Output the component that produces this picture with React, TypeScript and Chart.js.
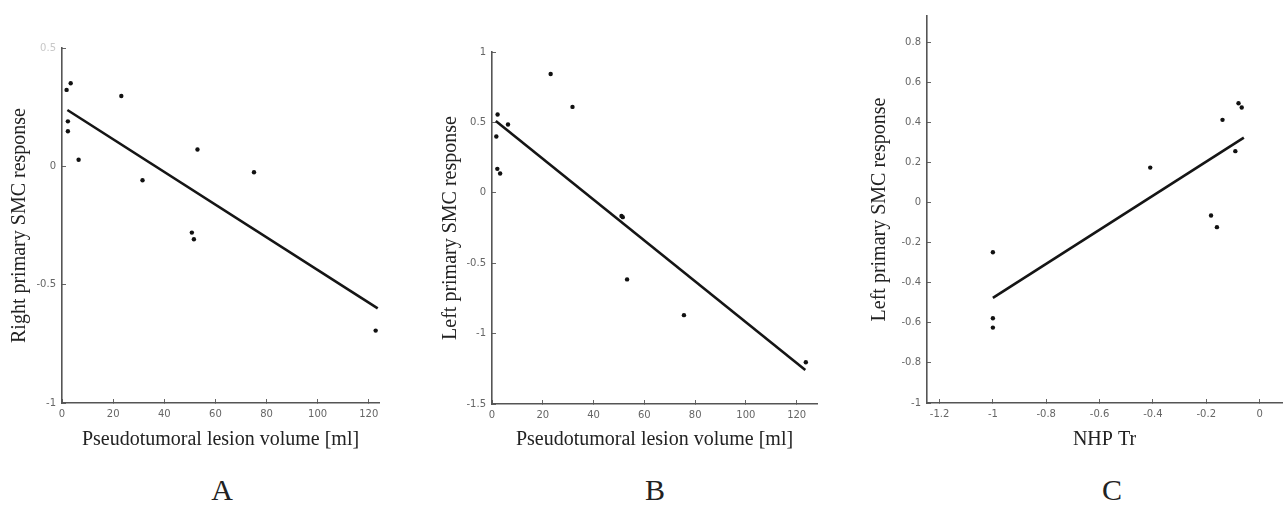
import React, { useEffect, useRef } from 'react';
import { Chart, registerables } from 'chart.js';

Chart.register(...registerables);

// ---------- Panel A: right primary SMC response vs lesion volume ----------
const volumeA = [1.8, 3.4, 2.3, 2.3, 6.5, 23.2, 31.5, 50.8, 51.6, 53.0, 75.1, 122.7];
const rightSMC = [0.323, 0.351, 0.19, 0.148, 0.028, 0.297, -0.059, -0.28, -0.308, 0.071, -0.025, -0.694];
const fitAX = [2.1, 123.5];
const fitAY = [0.238, -0.6];

// ---------- Panel B: left primary SMC response vs lesion volume ----------
const volumeB = [1.7, 2.1, 2.2, 3.2, 6.3, 23.1, 31.7, 51.0, 51.5, 53.2, 75.6, 123.6];
const leftSMCB = [0.4, 0.17, 0.556, 0.137, 0.485, 0.844, 0.61, -0.164, -0.173, -0.615, -0.869, -1.204];
const fitBX = [1.5, 123.4];
const fitBY = [0.51, -1.259];

// ---------- Panel C: left primary SMC response vs NHP Tr ----------
const nhpTr = [-1.0, -1.0, -1.0, -0.41, -0.182, -0.16, -0.139, -0.091, -0.079, -0.067];
const leftSMCC = [-0.248, -0.577, -0.624, 0.174, -0.065, -0.123, 0.412, 0.256, 0.495, 0.474];
const fitCX = [-1.0, -0.059];
const fitCY = [-0.476, 0.323];

// ---------- Tick labels ----------
const volumeTicks = [0, 20, 40, 60, 80, 100, 120];
const ticksAY = [-1, -0.5, 0, 0.5];
const ticksBY = [-1.5, -1, -0.5, 0, 0.5, 1];
const ticksCX = [-1.2, -1, -0.8, -0.6, -0.4, -0.2, 0];
const ticksCY = [-1, -0.8, -0.6, -0.4, -0.2, 0, 0.2, 0.4, 0.6, 0.8];

const panelLetters = ['A', 'B', 'C'];

const SERIF = "'Liberation Serif', 'Times New Roman', serif";
const SANS = "'DejaVu Sans', sans-serif";

type Spec = {
  left: number;
  width: number;
  height: number;
  padTop: number;
  padRight: number;
  yAxisW: number;
  xAxisH: number;
  xMin: number;
  xMax: number;
  yMin: number;
  yMax: number;
  xTicks: number[];
  yTicks: number[];
  xTitle: string;
  yTitle: string;
  yTitlePad: number;
  xTitlePad: number;
  xs: number[];
  ys: number[];
  fx: number[];
  fy: number[];
  fadedY?: number;
};

function zip(a: number[], b: number[]) {
  return a.map((v, i) => ({ x: v, y: b[i] }));
}

function Panel({ spec }: { spec: Spec }) {
  const ref = useRef<HTMLCanvasElement | null>(null);
  useEffect(() => {
    if (!ref.current) return;
    const s = spec;
    const chart = new Chart(ref.current, {
      type: 'scatter',
      data: {
        datasets: [
          {
            type: 'scatter',
            data: zip(s.xs, s.ys),
            pointRadius: 2.2,
            pointBackgroundColor: '#111',
            pointBorderColor: '#111',
            pointBorderWidth: 0,
          },
          {
            type: 'line',
            data: zip(s.fx, s.fy),
            borderColor: '#151515',
            borderWidth: 2.6,
            pointRadius: 0,
            fill: false,
            tension: 0,
          } as any,
        ],
      },
      options: {
        responsive: false,
        animation: false,
        events: [],
        layout: { padding: { top: s.padTop, right: s.padRight, left: 0, bottom: 0 } },
        plugins: { legend: { display: false }, tooltip: { enabled: false }, title: { display: false } },
        scales: {
          x: {
            type: 'linear',
            min: s.xMin,
            max: s.xMax,
            afterBuildTicks: (sc: any) => {
              sc.ticks = s.xTicks.map((v) => ({ value: v }));
            },
            afterFit: (sc: any) => {
              sc.height = s.xAxisH;
            },
            border: { display: true, color: '#555', width: 1.6 },
            grid: { display: true, drawOnChartArea: false, drawTicks: true, tickLength: -4, color: '#666', lineWidth: 1 },
            ticks: {
              padding: 9,
              color: '#666',
              font: { family: SANS, size: 10 },
              maxRotation: 0,
              autoSkip: false,
              callback: (v: any) => String(v),
            },
            title: {
              display: true,
              text: s.xTitle,
              color: '#222',
              font: { family: SERIF, size: 20 },
              padding: { top: 0, bottom: s.xTitlePad },
            },
          },
          y: {
            type: 'linear',
            min: s.yMin,
            max: s.yMax,
            afterBuildTicks: (sc: any) => {
              sc.ticks = s.yTicks.map((v) => ({ value: v }));
            },
            afterFit: (sc: any) => {
              sc.width = s.yAxisW;
            },
            border: { display: true, color: '#555', width: 1.6 },
            grid: { display: true, drawOnChartArea: false, drawTicks: true, tickLength: -4, color: '#666', lineWidth: 1 },
            ticks: {
              padding: 10,
              color: (c: any) => (s.fadedY !== undefined && c.tick && c.tick.value === s.fadedY ? '#c8c8c8' : '#666'),
              font: { family: SANS, size: 10 },
              autoSkip: false,
              callback: (v: any) => String(v),
            },
            title: {
              display: true,
              text: s.yTitle,
              color: '#222',
              font: { family: SERIF, size: 20 },
              padding: { top: s.yTitlePad, bottom: 0 },
            },
          },
        },
      } as any,
    });
    return () => chart.destroy();
  }, [spec]);
  return (
    <canvas
      ref={ref}
      width={spec.width}
      height={spec.height}
      style={{ position: 'absolute', left: spec.left, top: 0, width: spec.width, height: spec.height }}
    />
  );
}

const specs: Spec[] = [
  {
    left: 0,
    width: 400,
    height: 460,
    padTop: 48,
    padRight: 21,
    yAxisW: 62,
    xAxisH: 57,
    xMin: 0,
    xMax: 124,
    yMin: -1,
    yMax: 0.5,
    xTicks: volumeTicks,
    yTicks: ticksAY,
    xTitle: 'Pseudotumoral lesion volume [ml]',
    yTitle: 'Right primary SMC response',
    yTitlePad: 8,
    xTitlePad: 8,
    xs: volumeA,
    ys: rightSMC,
    fx: fitAX,
    fy: fitAY,
    fadedY: 0.5,
  },
  {
    left: 420,
    width: 420,
    height: 460,
    padTop: 52,
    padRight: 23,
    yAxisW: 72,
    xAxisH: 56,
    xMin: 0,
    xMax: 128,
    yMin: -1.5,
    yMax: 1,
    xTicks: volumeTicks,
    yTicks: ticksBY,
    xTitle: 'Pseudotumoral lesion volume [ml]',
    yTitle: 'Left primary SMC response',
    yTitlePad: 19,
    xTitlePad: 8,
    xs: volumeB,
    ys: leftSMCB,
    fx: fitBX,
    fy: fitBY,
  },
  {
    left: 850,
    width: 436,
    height: 460,
    padTop: 13,
    padRight: 0,
    yAxisW: 77,
    xAxisH: 57,
    xMin: -1.247,
    xMax: 0.084,
    yMin: -1,
    yMax: 0.93,
    xTicks: ticksCX,
    yTicks: ticksCY,
    xTitle: 'NHP Tr',
    yTitle: 'Left primary SMC response',
    yTitlePad: 18,
    xTitlePad: 8,
    xs: nhpTr,
    ys: leftSMCC,
    fx: fitCX,
    fy: fitCY,
  },
];

const letterCenters = [222, 655, 1112];

export default function App() {
  return (
    <div style={{ position: 'absolute', left: 0, top: 0, width: 1286, height: 505, background: '#fff', overflow: 'hidden' }}>
      {specs.map((s, i) => (
        <Panel key={i} spec={s} />
      ))}
      {panelLetters.map((l, i) => (
        <div
          key={l}
          style={{
            position: 'absolute',
            left: letterCenters[i] - 30,
            width: 60,
            top: 474,
            textAlign: 'center',
            fontFamily: SERIF,
            fontSize: 30,
            lineHeight: '32px',
            color: '#222',
          }}
        >
          {l}
        </div>
      ))}
    </div>
  );
}
